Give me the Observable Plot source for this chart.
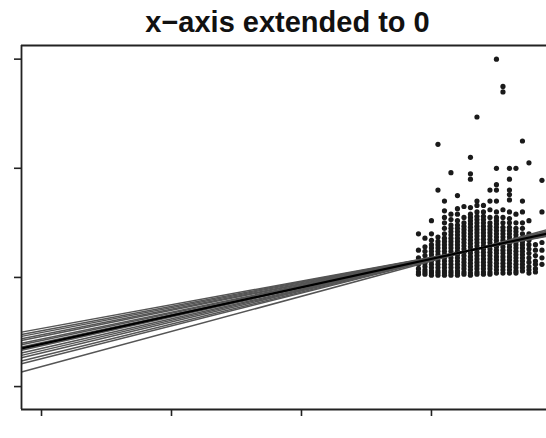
<!DOCTYPE html>
<html>
<head>
<meta charset="utf-8">
<script src="https://cdn.jsdelivr.net/npm/d3@7"></script>
<script src="https://cdn.jsdelivr.net/npm/@observablehq/plot@0.6"></script>
<style>
  html, body { margin: 0; padding: 0; background: #fff; }
  #wrap { position: relative; width: 546px; height: 438px; overflow: hidden; }
  #title { position: absolute; top: 7.5px; left: 0; width: 575px; text-align: center;
           font-family: "Liberation Sans", Arial, sans-serif; font-weight: bold;
           font-size: 29px; line-height: 29px; color: #111; white-space: nowrap; }
</style>
</head>
<body>
<div id="wrap"><div id="title">x−axis extended to 0</div><div id="chart"></div></div>
<script>
// Height (inches) columns and earnings (thousands of $)
const heights = [58, 59, 60, 61, 62, 63, 64, 65, 66, 67, 68, 69, 70, 71, 72, 73, 74, 75, 76, 77];
const earningsByHeight = [
  [40, 25, 18, 12, 8, 5, 3],
  [36, 28, 24, 20, 16, 13, 10, 7, 5, 3],
  [52, 40, 34, 30, 27, 24, 21, 18, 15, 12, 9, 6, 4, 2],
  [122, 80, 37, 33, 30, 27, 24, 21, 18, 15, 12, 9, 6, 4, 2],
  [70, 61, 55, 50, 45, 40, 36, 33, 30, 27, 24, 21, 18, 15, 12, 9, 6, 4, 2],
  [96, 58, 53, 48, 45, 42, 39, 36, 33, 30, 27, 24, 21, 18, 15, 12, 9, 6, 4, 2],
  [75, 63, 58, 52, 48, 45, 42, 39, 36, 33, 30, 27, 24, 21, 18, 15, 12, 9, 6, 4, 2],
  [65, 55, 50, 47, 44, 41, 38, 35, 32, 29, 26, 23, 20, 17, 14, 11, 8, 5, 3],
  [110, 95, 90, 64, 58, 55, 52, 49, 46, 43, 40, 37, 34, 31, 28, 25, 22, 19, 16, 13, 10, 7, 4, 2],
  [147, 70, 66, 60, 56, 53, 50, 47, 44, 41, 38, 35, 32, 29, 26, 23, 20, 17, 14, 11, 8, 5, 3],
  [66, 60, 56, 53, 50, 47, 44, 41, 38, 35, 32, 29, 26, 23, 20, 17, 14, 11, 8, 5, 3],
  [80, 70, 62, 55, 50, 47, 44, 41, 38, 35, 32, 29, 26, 23, 20, 17, 14, 11, 8, 5, 3],
  [200, 100, 85, 80, 70, 60, 55, 52, 49, 46, 43, 40, 37, 34, 31, 28, 25, 22, 19, 16, 13, 10, 7, 4],
  [175, 170, 62, 55, 50, 46, 43, 40, 37, 34, 31, 28, 25, 22, 19, 16, 13, 10, 7, 4],
  [100, 90, 80, 76, 71, 60, 54, 50, 46, 43, 40, 37, 34, 31, 28, 25, 22, 19, 16, 13, 10, 7, 4],
  [100, 58, 50, 45, 42, 39, 36, 33, 30, 27, 24, 21, 18, 15, 12, 9, 6, 4],
  [125, 70, 60, 50, 45, 40, 36, 33, 30, 27, 24, 21, 18, 15, 12, 9, 6],
  [105, 52, 40, 34, 30, 26, 22, 18, 14, 10, 7, 4],
  [38, 30, 25, 20, 15, 12, 8, 5],
  [89, 60, 40, 32, 25, 18, 12]
];
// Simulated regression lines (intercept in $k, slope in $k per inch)
const simIntercepts = [-46.76, -48.76, -50.48, -52.49, -54.02, -56.41, -57.75, -59.85, -61.28, -62.72, -65.11, -67.11, -69.12, -72.08, -74.38, -81.74];
const simSlopes = [1.086, 1.116, 1.142, 1.172, 1.195, 1.231, 1.251, 1.283, 1.304, 1.326, 1.362, 1.392, 1.422, 1.467, 1.501, 1.612];
// Fitted line: earnings = -61000 + 1300 * height
const fitIntercept = -61;
const fitSlope = 1.3;
const xTicks = [0, 20, 40, 60];
const yTicks = [-100, 0, 100, 200];
const xDomain = [-3.08, 77.7];
const yDomain = [-121, 212.5];

const points = heights.flatMap((h, i) => earningsByHeight[i].map(e => ({height: h, earn: e})));
const sims = simIntercepts.map((a, i) => ({a, b: simSlopes[i]}));
const lineEnds = d => ({x1: xDomain[0], x2: xDomain[1], y1: d.a + d.b * xDomain[0], y2: d.a + d.b * xDomain[1]});
const simLines = sims.map(lineEnds);
const fitLine = [lineEnds({a: fitIntercept, b: fitSlope})];

const plot = Plot.plot({
  width: 546,
  height: 438,
  marginLeft: 21,
  marginRight: 0,
  marginTop: 45,
  marginBottom: 29,
  x: {domain: xDomain},
  y: {domain: yDomain},
  style: {background: "transparent"},
  marks: [
    Plot.dot(points, {x: "height", y: "earn", r: 2.6, fill: "#1a1a1a", stroke: "none"}),
    Plot.link(simLines, {x1: "x1", y1: "y1", x2: "x2", y2: "y2", stroke: "#555", strokeWidth: 1.5}),
    Plot.link(fitLine, {x1: "x1", y1: "y1", x2: "x2", y2: "y2", stroke: "#000", strokeWidth: 2.2}),
    Plot.ruleX([xDomain[0]], {stroke: "#222", strokeWidth: 1.8}),
    Plot.ruleY(yDomain, {stroke: "#222", strokeWidth: 1.8}),
    Plot.axisX({ticks: xTicks, tickSize: 7, tickFormat: () => "", stroke: "#222", strokeWidth: 1.6}),
    Plot.axisY({ticks: yTicks, tickSize: 7, tickFormat: () => "", stroke: "#222", strokeWidth: 1.6})
  ]
});
document.getElementById("chart").appendChild(plot);
</script>
</body>
</html>
